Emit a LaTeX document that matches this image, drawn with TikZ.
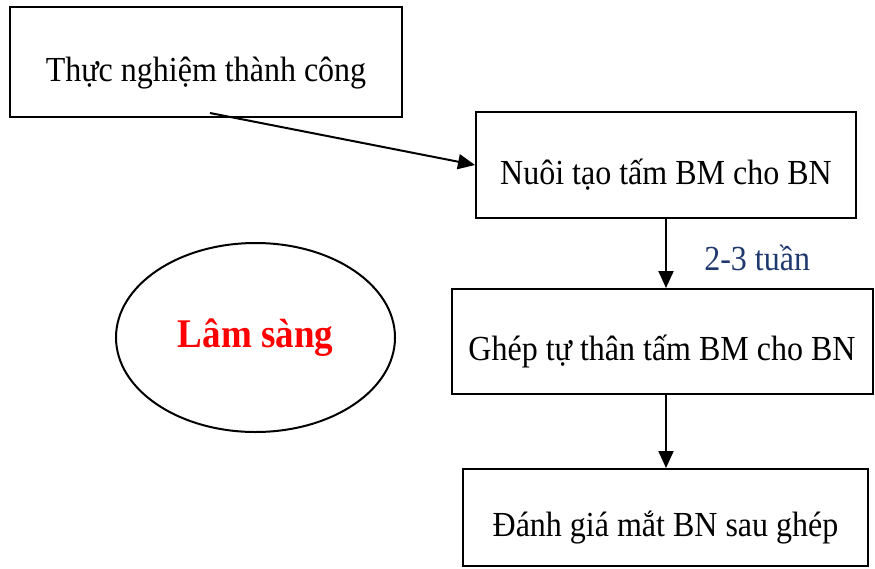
\documentclass[tikz,border=0pt]{standalone}
\usepackage{fontspec}
\usepackage{graphicx}
\setmainfont{Liberation Serif}
\usetikzlibrary{arrows.meta,shapes.geometric}
\definecolor{labelblue}{RGB}{31,56,110}
\newcommand{\tallTxt}[1]{\scalebox{1}[1.1]{#1}}
\begin{document}
\begin{tikzpicture}[x=1pt,y=-1pt,
  box/.style={draw,line width=2pt,inner sep=0pt,text height=40pt,text depth=2pt,font=\fontsize{32}{38}\selectfont},
  conn/.style={line width=2pt,-{Triangle[length=17pt,width=15pt]}}]
\useasboundingbox (0,0) rectangle (875,568);
\node[box,minimum width=392pt,minimum height=110pt] (b1) at (206,62) {\tallTxt{Thực nghiệm thành công}};
\node[box,minimum width=380pt,minimum height=106pt] (b2) at (666,165) {\tallTxt{Nuôi tạo tấm BM cho BN}};
\node[box,minimum width=421pt,minimum height=105pt] (b3) at (662,341.5) {\tallTxt{Ghép tự thân tấm BM cho BN}};
\node[box,minimum width=405pt,minimum height=97pt] (b4) at (665.5,517.5) {\tallTxt{Đánh giá mắt BN sau ghép}};
\node[draw,ellipse,line width=2pt,minimum width=279pt,minimum height=189pt,inner sep=0pt,
  text=red,font=\fontsize{37}{44}\selectfont\bfseries] (e) at (255.5,337.5) {\tallTxt{Lâm sàng}};
\coordinate (s) at (210,113);
\draw[conn] (s) -- (b2.west);
\draw[conn] (b2.south -| 666,0) -- (b3.north -| 666,0) node[midway,right=34pt,yshift=-4pt,text=labelblue,font=\fontsize{32}{38}\selectfont] (lbl) {\tallTxt{2-3 tuần}};
\draw[conn] (b3.south -| 666,0) -- (b4.north -| 666,0);
\end{tikzpicture}
\end{document}
